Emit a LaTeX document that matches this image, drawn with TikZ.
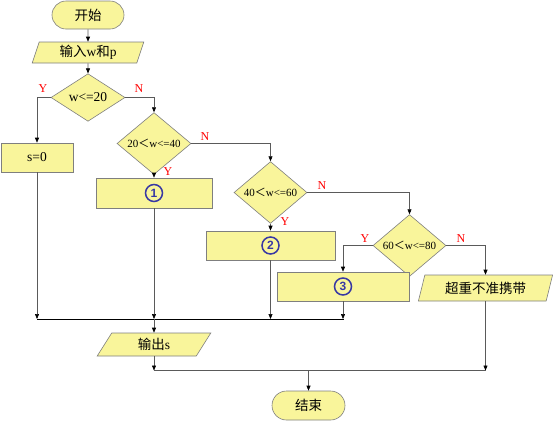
\documentclass[tikz,border=0pt]{standalone}
\usepackage{fontspec}
\setmainfont{Liberation Serif}
\setsansfont{Liberation Sans}
\newfontfamily\cjk{Noto Sans CJK SC}
\usetikzlibrary{shapes.geometric,arrows.meta}
\definecolor{boxfill}{HTML}{F9F59B}
\definecolor{boxline}{HTML}{7F7F7F}
\definecolor{flow}{HTML}{5A5A5A}
\definecolor{mark}{HTML}{3838A4}
\tikzset{
  base/.style={draw=boxline, fill=boxfill, line width=0.6pt, inner sep=0pt,
    font=\fontsize{13.5}{15}\selectfont},
  terminal/.style={base, rectangle, rounded corners=14pt},
  process/.style={base, rectangle},
  io/.style={base, trapezium, trapezium stretches=true},
  decision/.style={base, diamond},
  smalltext/.style={font=\fontsize{11}{13}\selectfont},
  nummark/.style={circle, draw=mark, line width=1.5pt, text=mark, minimum size=17pt,
    inner sep=0pt, font=\sffamily\bfseries\fontsize{12}{12}\selectfont},
  yn/.style={text=red, font=\fontsize{12}{12}\selectfont, inner sep=0pt},
  arr/.style={draw=flow, line width=0.6pt, -{Triangle[black,length=5pt,width=4pt]}},
  link/.style={draw=flow, line width=0.6pt},
  bus/.style={draw=black, line width=0.9pt}
}
\begin{document}
\begin{tikzpicture}[x=1pt, y=-1pt]
\useasboundingbox (0,0) rectangle (554,421);

% shapes
\node[terminal, minimum width=72pt, minimum height=28pt] (start) at (88,15) {\cjk 开始};
\node[io, trapezium left angle=74, trapezium right angle=106,
      minimum width=112pt, minimum height=21pt] (in) at (88,52.5) {{\cjk 输入}w{\cjk 和}p};
\node[decision, minimum width=74pt, minimum height=43pt] (d1) at (88,97.5) {w<=20};
\node[process, minimum width=72pt, minimum height=29pt] (s0) at (37,157.5) {s=0};
\node[decision, smalltext, minimum width=74pt, minimum height=43pt] (d2) at (154,143.5) {20{\cjk ＜}w<=40};
\node[process, minimum width=116pt, minimum height=30pt] (b1) at (154,193) {};
\node[decision, smalltext, minimum width=73pt, minimum height=43pt] (d3) at (270.5,192.5) {40{\cjk ＜}w<=60};
\node[process, minimum width=129pt, minimum height=29pt] (b2) at (270.5,245.5) {};
\node[decision, smalltext, minimum width=73pt, minimum height=43pt] (d4) at (409.5,245.5) {60{\cjk ＜}w<=80};
\node[process, minimum width=132pt, minimum height=29pt] (b3) at (343,286.5) {};
\node[io, trapezium left angle=71, trapezium right angle=109,
      minimum width=135pt, minimum height=26pt] (over) at (485.5,288) {\cjk 超重不准携带};
\node[io, trapezium left angle=66, trapezium right angle=114,
      minimum width=114pt, minimum height=23pt] (out) at (154,344.5) {{\cjk 输出}s};
\node[terminal, minimum width=73pt, minimum height=29pt, rounded corners=14.5pt] (end) at (308.5,405.5) {\cjk 结束};

% circled blanks
\node[nummark] (n1) at (b1) {1};
\node[nummark] (n2) at (b2) {2};
\node[nummark] (n3) at (b3) {3};

% junction points
\coordinate (mL) at (37,319);
\coordinate (mR) at (344,319);
\coordinate (jL) at (154,370.5);
\coordinate (jR) at (486,370.5);

% flow
\draw[arr] (start) -- (in);
\draw[arr] (in) -- (d1);
\draw[arr] (d1.west) -| (s0.north);
\draw[arr] (d1.east) -| (d2.north);
\draw[arr] (d2.south) -- (b1.north);
\draw[arr] (d2.east) -| (d3.north);
\draw[arr] (d3.south) -- (b2.north);
\draw[arr] (d3.east) -| (d4.north);
\draw[arr] (d4.west) -| (b3.north);
\draw[arr] (d4.east) -| (over.north);

\draw[arr] (s0.south) -- (s0.south |- mL);
\draw[arr] (b1.south) -- (b1.south |- mL);
\draw[arr] (b2.south) -- (b2.south |- mL);
\draw[arr] (b3.south) -- (b3.south |- mL);
\draw[bus] (mL) -- (mR);
\draw[arr] (out.north |- mL) -- (out.north);

\draw[arr] (out.south) -- (out.south |- jL);
\draw[arr] (over.south) -- (over.south |- jR);
\draw[link] (jL) -- (jR);
\draw[arr] (end.north |- jL) -- (end.north);

% branch labels
\node[yn] (y1) at (43,89) {Y};
\node[yn] (n1l) at (139,89) {N};
\node[yn] (y2) at (168,172) {Y};
\node[yn] (n2l) at (205,137) {N};
\node[yn] (y3) at (285,222) {Y};
\node[yn] (n3l) at (322,186) {N};
\node[yn] (y4) at (365,239) {Y};
\node[yn] (n4l) at (461,239) {N};
\end{tikzpicture}
\end{document}
